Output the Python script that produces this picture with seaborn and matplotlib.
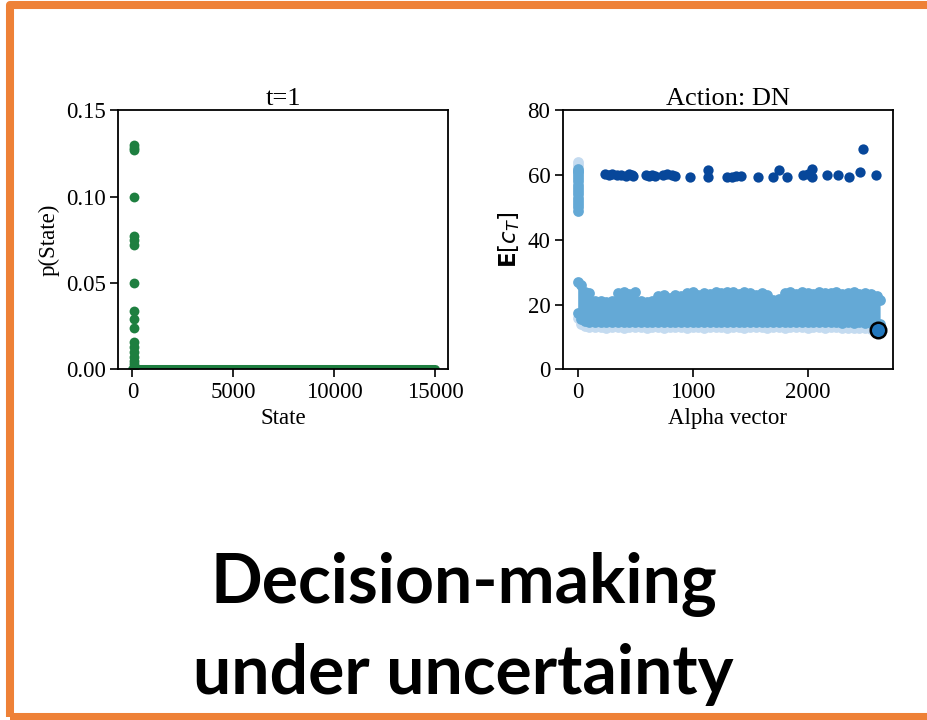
import matplotlib
matplotlib.use("Agg")
import matplotlib.pyplot as plt
import numpy as np
import pandas as pd
import seaborn as sns
from matplotlib.patches import Rectangle

# ---- left panel: belief over states at t=1 ----
state_nonzero = [100, 100, 100, 100, 100, 100, 100, 100, 100, 100, 100, 100, 100, 100, 100, 100, 100, 100]
p_nonzero = [0.130, 0.128, 0.127, 0.100, 0.077, 0.075, 0.072, 0.050, 0.034, 0.029,
             0.024, 0.016, 0.013, 0.010, 0.007, 0.005, 0.003, 0.001]
state_zero = [0, 15000]
p_zero = [0.0, 0.0]

# ---- right panel: expected cost per alpha vector ----
high_x = [240, 270, 300, 340, 380, 420, 450, 470, 485, 590, 620, 650, 675, 740, 780, 820, 845,
          977, 1130, 1130, 1300, 1340, 1380, 1420, 1565, 1700, 1750, 1823, 1962, 2000, 2035, 2035,
          2166, 2267, 2360, 2456, 2478, 2592]
high_y = [60.3, 60.0, 60.2, 59.9, 60.0, 59.8, 60.4, 59.9, 59.6, 60.0, 59.8, 59.9, 59.6, 60.0, 60.2,
          59.9, 59.8, 59.5, 61.5, 59.5, 59.4, 59.5, 59.6, 59.8, 59.4, 59.5, 61.5, 59.4, 59.9, 60.2,
          61.8, 59.5, 60.0, 59.9, 59.4, 60.8, 68.0, 59.9]

col_x = [0, 0, 0, 0, 0, 0, 0, 0, 0, 0, 0, 0, 0, 0, 0]
col_y = [49.0, 50.0, 51.0, 52.0, 53.0, 54.0, 55.0, 56.0, 57.0, 58.0, 59.0, 60.0, 60.8, 61.3, 61.8]
col_light_x = [0, 0]
col_light_y = [63.0, 64.0]

band_x = [0, 30, 60,
          100, 150, 200, 250, 300, 350, 400, 450, 500, 550,
          600, 650, 700, 750, 800, 850, 900, 950, 1000, 1050,
          1100, 1150, 1200, 1250, 1300, 1350, 1400, 1450, 1500, 1550,
          1600, 1650, 1700, 1750, 1800, 1850, 1900, 1950, 2000, 2050,
          2100, 2150, 2200, 2250, 2300, 2350, 2400, 2450, 2500, 2550,
          2600, 2630]
band_top = [27.0, 26.0, 24.0,
            23.5, 21.0, 21.2, 20.8, 21.0, 23.5, 23.8, 23.2, 24.0, 21.0,
            20.8, 21.2, 22.5, 23.0, 22.0, 23.0, 22.5, 23.5, 23.8, 23.0,
            23.5, 23.2, 23.8, 23.5, 24.0, 23.8, 23.2, 23.8, 23.5, 23.0,
            23.6, 22.8, 21.5, 21.6, 23.5, 23.8, 23.2, 23.8, 23.5, 23.2,
            23.8, 23.5, 23.6, 23.8, 23.2, 23.6, 23.8, 23.4, 23.6, 23.2,
            22.5, 21.5]
band_low = [17.5, 15.5, 15.0,
            14.7, 14.6, 14.5, 14.6, 14.6, 14.5, 14.6, 14.5, 14.6, 14.5,
            14.6, 14.5, 14.6, 14.6, 14.5, 14.6, 14.5, 14.6, 14.5, 14.6,
            14.5, 14.6, 14.5, 14.6, 14.5, 14.6, 14.6, 14.5, 14.6, 14.5,
            14.6, 14.5, 14.6, 14.5, 14.6, 14.5, 14.6, 14.5, 14.6, 14.5,
            14.6, 14.5, 14.6, 14.5, 14.4, 14.5, 14.4, 14.5, 14.4, 14.3,
            14.0, 14.0]
shade_low = [16.0, 14.0, 13.5,
             13.2, 13.0, 13.1, 12.9, 13.0, 13.1, 12.9, 13.0, 13.0, 13.1,
             12.9, 13.0, 13.1, 12.9, 13.0, 13.0, 13.1, 12.9, 13.0, 13.1,
             12.9, 13.0, 13.0, 13.1, 12.9, 13.0, 13.1, 12.9, 13.0, 13.0,
             13.1, 12.9, 13.0, 13.1, 12.9, 13.0, 13.0, 13.1, 12.9, 13.0,
             13.1, 12.9, 13.0, 13.0, 12.8, 12.9, 12.8, 12.7, 12.8, 12.6,
             12.5, 12.5]

best_x = [2614]
best_y = [12.3]

GREEN = "#1e7f40"
DARK = "#07479a"
MID = "#64a9d6"
LIGHT = "#c4dbf0"
BEST = "#2277bd"
ORANGE = "#ee8137"

sns.set_style("ticks")
plt.rcParams["font.family"] = ["Liberation Serif", "DejaVu Serif"]
plt.rcParams["mathtext.fontset"] = "dejavusans"
plt.rcParams["axes.linewidth"] = 1.3
plt.rcParams["xtick.major.size"] = 5.5
plt.rcParams["ytick.major.size"] = 5.5
plt.rcParams["xtick.major.width"] = 1.2
plt.rcParams["ytick.major.width"] = 1.2
plt.rcParams["xtick.color"] = "black"
plt.rcParams["ytick.color"] = "black"
plt.rcParams["axes.edgecolor"] = "black"
plt.rcParams["text.color"] = "black"
plt.rcParams["axes.labelcolor"] = "black"

fig = plt.figure(figsize=(9.27, 7.2), dpi=100)
ax1 = fig.add_axes([0.1273, 0.487, 0.356, 0.360])
ax2 = fig.add_axes([0.6073, 0.487, 0.356, 0.360])

fs = 16.5
ms = 60

# left
ax1.plot(state_zero, p_zero, color=GREEN, lw=6.5, solid_capstyle="round")
sns.scatterplot(x=state_nonzero, y=p_nonzero, ax=ax1, color=GREEN, s=50, linewidth=0)
ax1.set_xlim(-714, 15625)
ax1.set_ylim(0, 0.15)
ax1.set_xticks([0, 5000, 10000, 15000])
ax1.set_yticks([0.0, 0.05, 0.10, 0.15])
ax1.set_yticklabels(["0.00", "0.05", "0.10", "0.15"])
ax1.set_xlabel("State", fontsize=fs)
ax1.set_ylabel("p(State)", fontsize=fs)
ax1.set_title("t=1", fontsize=19, pad=4)
ax1.tick_params(labelsize=fs)

# right
ax2.fill_between(band_x, shade_low, band_low, color=LIGHT, lw=0)
sns.scatterplot(x=band_x, y=shade_low, ax=ax2, color=LIGHT, s=ms, linewidth=0)
ax2.fill_between(band_x, band_low, band_top, color=MID, lw=0)
sns.scatterplot(x=band_x, y=band_top, ax=ax2, color=MID, s=ms, linewidth=0)
sns.scatterplot(x=band_x, y=band_low, ax=ax2, color=MID, s=ms, linewidth=0)
sns.scatterplot(x=col_light_x, y=col_light_y, ax=ax2, color=LIGHT, s=ms, linewidth=0)
sns.scatterplot(x=col_x, y=col_y, ax=ax2, color=MID, s=ms, linewidth=0)
sns.scatterplot(x=high_x, y=high_y, ax=ax2, color=DARK, s=55, linewidth=0)
sns.scatterplot(x=best_x, y=best_y, ax=ax2, color=BEST, s=125, edgecolor="black", linewidth=1.8, zorder=5)
ax2.set_xlim(-128, 2742)
ax2.set_ylim(0, 80)
ax2.set_xticks([0, 1000, 2000])
ax2.set_yticks([0, 20, 40, 60, 80])
ax2.set_xlabel("Alpha vector", fontsize=fs)
ax2.set_ylabel(r"$\mathbf{E}[c_T]$", fontsize=fs)
ax2.set_title("Action: DN", fontsize=19, pad=4)
ax2.tick_params(labelsize=fs)

# caption
cap_font = ["Lato", "Open Sans", "DejaVu Sans"]
fig.text(0.5, 1 - 603 / 720, "Decision-making", ha="center", va="baseline",
         fontsize=49, fontweight="bold", family=cap_font, color="black")
fig.text(0.5, 1 - 694 / 720, "under uncertainty", ha="center", va="baseline",
         fontsize=49, fontweight="bold", family=cap_font, color="black")

# orange frame
fig.patches.append(Rectangle((10 / 927, 1 - 717 / 720), 935 / 927 - 10 / 927, (717 - 5) / 720,
                             transform=fig.transFigure, fill=False, edgecolor=ORANGE,
                             lw=5.8, joinstyle="round", figure=fig))

fig.savefig("out.png", dpi=100)
